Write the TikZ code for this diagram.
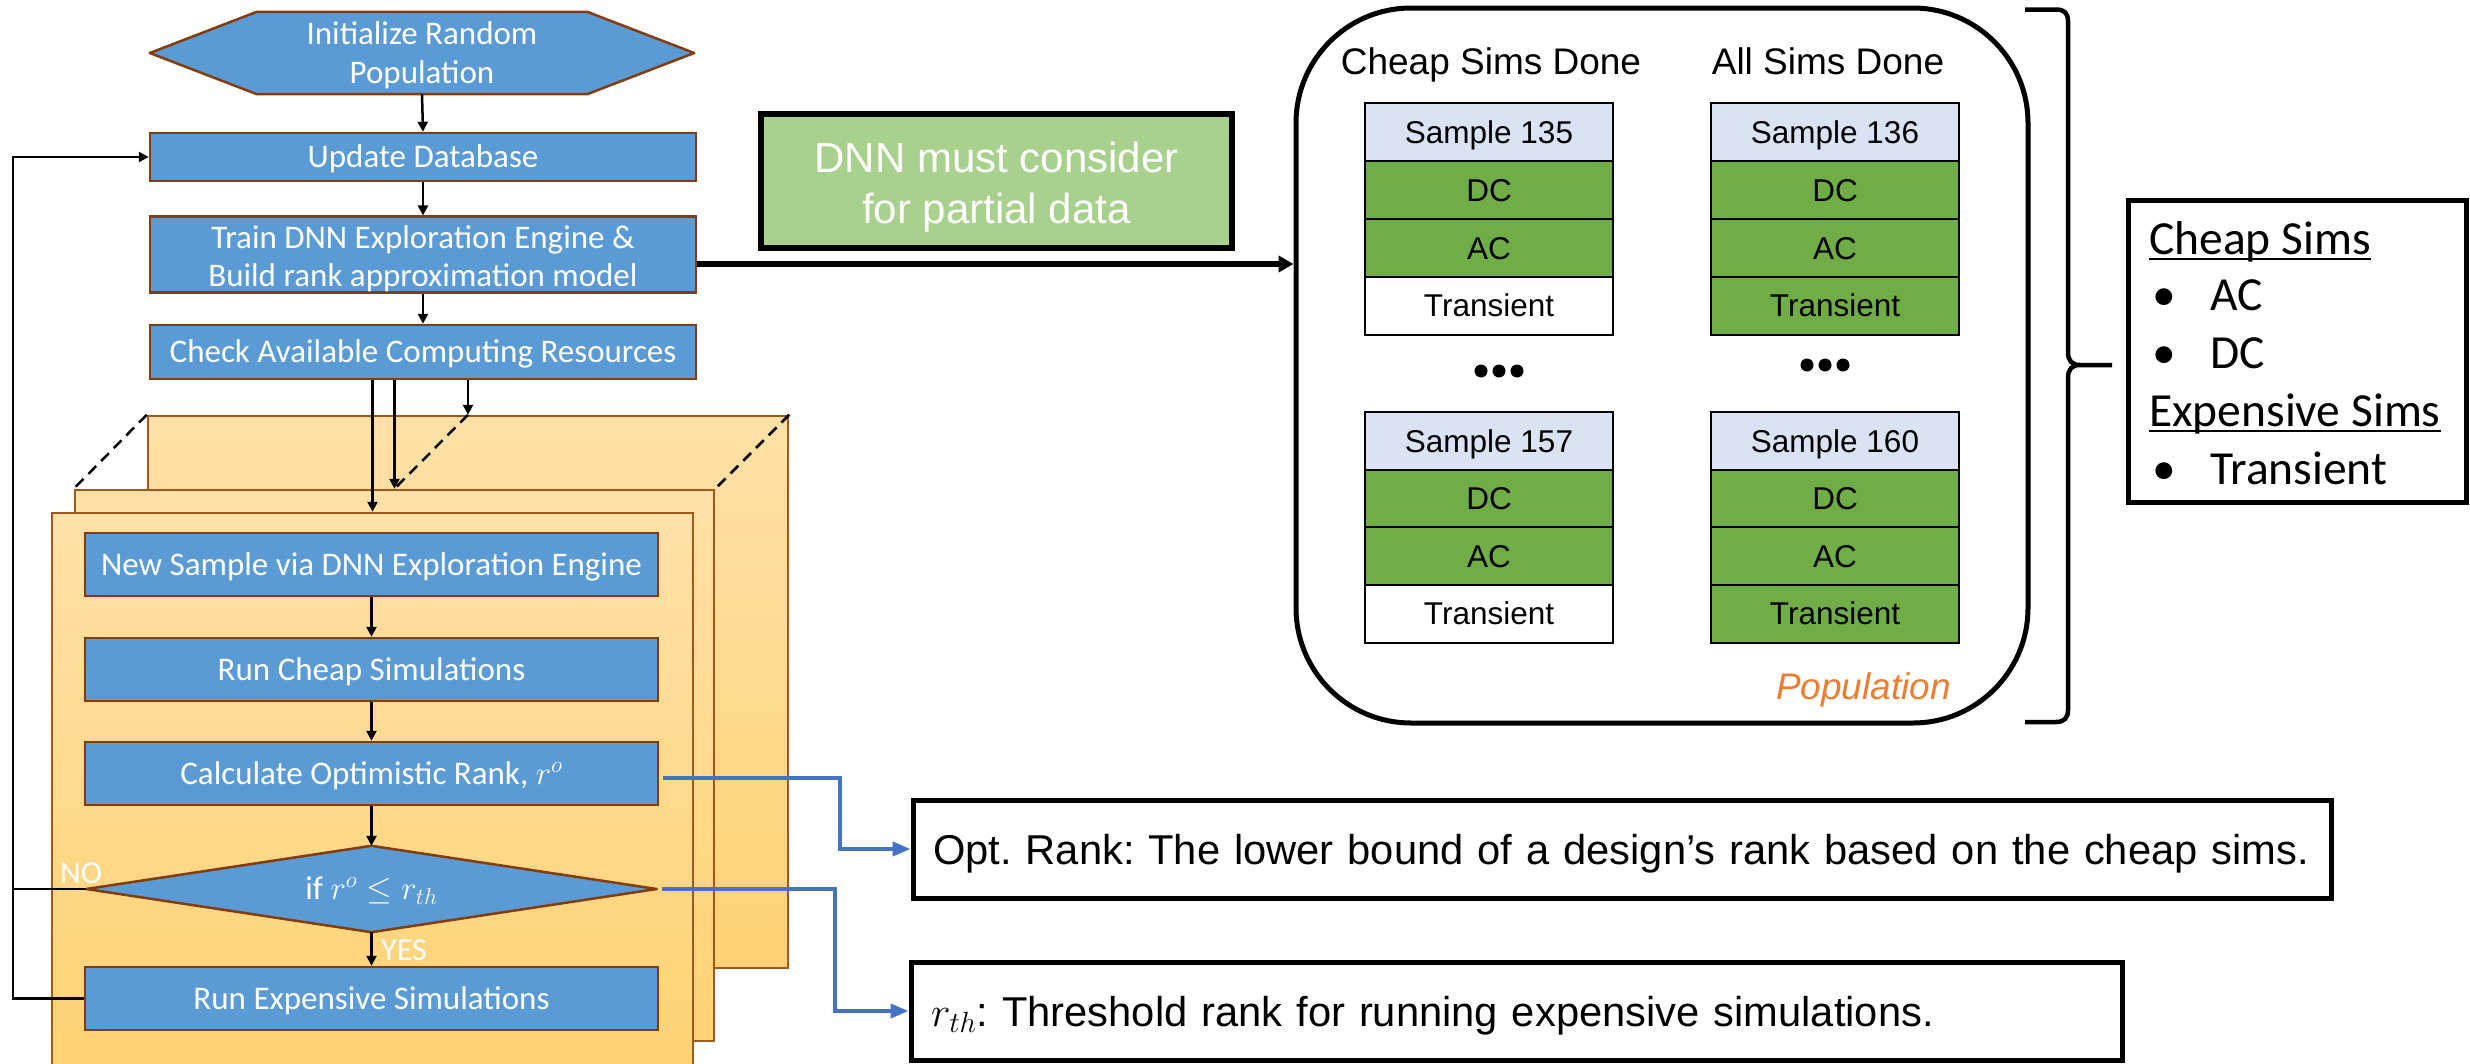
\RequirePackage{fix-cm}
\documentclass[tikz,border=0pt]{standalone}
\usepackage{fontspec}
\setmainfont{Carlito}
\newfontfamily\arialfont{Liberation Sans}
\usetikzlibrary{arrows.meta,shapes.geometric}
\definecolor{boxblue}{HTML}{5B9BD5}
\definecolor{boxbrown}{HTML}{843C0C}
\definecolor{panelbrd}{HTML}{A0581E}
\definecolor{paneltop}{HTML}{FFE1A8}
\definecolor{panelbot}{HTML}{FFD273}
\definecolor{dnngreen}{HTML}{A9D18E}
\definecolor{cellgreen}{HTML}{70AD47}
\definecolor{cellhead}{HTML}{DAE3F3}
\definecolor{lineblue}{HTML}{4472C4}
\definecolor{poporange}{HTML}{ED7D31}
\newsavebox\ulbox
\newcommand\myul[1]{\sbox\ulbox{#1}\rlap{\rule[-6pt]{\wd\ulbox}{2.5pt}}\usebox\ulbox}
\pgfdeclarelayer{panels}
\pgfdeclarelayer{bg}
\pgfsetlayers{panels,bg,main}
\frenchspacing
\begin{document}
\begin{tikzpicture}[x=1pt,y=-1pt,
  flow/.style={draw=boxbrown,line width=2.5pt,fill=boxblue,text=white,inner sep=0pt,align=center,font=\fontsize{33}{38.5}\selectfont},
  onel/.style={text height=21.3pt,text depth=0pt},
  shapefill/.style={draw=boxbrown,fill=boxblue,line width=2.5pt,line join=round},
  arr/.style={line width=2.5pt,-{Triangle[length=10pt,width=10pt]}},
  panel/.style={draw=panelbrd,line width=2.5pt,top color=paneltop,bottom color=panelbot,inner sep=0pt},
  cell/.style={draw=black,line width=2pt,minimum width=248pt,minimum height=58pt,inner sep=0pt,text height=22.5pt,text depth=0pt,font=\arialfont\fontsize{31.5}{36}\selectfont},
  head/.style={cell,fill=cellhead},
  done/.style={cell,fill=cellgreen},
  todo/.style={cell,fill=white},
  note/.style={draw=black,line width=5pt,fill=white,inner sep=0pt,text height=30pt,text depth=0pt,align=left,font=\arialfont\fontsize{41.7}{50}\selectfont},
  bluearr/.style={draw=lineblue,line width=4pt,-{Triangle[length=18pt,width=14pt]}},
  leg/.style={inner sep=0pt,anchor=base west,font=\fontsize{47.5}{57}\selectfont},
  lbl/.style={inner sep=0pt,anchor=base west,text=white,font=\fontsize{32}{38}\selectfont},
  dots/.style={fill=black}
  ]
\useasboundingbox (0,0) rectangle (2470,1063);

% ---------- top of flowchart ----------
\node[inner sep=0pt,minimum width=544pt,minimum height=82pt,text=white,align=center,
      font=\fontsize{33}{39}\selectfont] (hex) at (422,53) {\rule{0pt}{27.3pt}Initialize Random\\Population};
\begin{pgfonlayer}{bg}
\draw[shapefill]
  (hex.west) -- ([xshift=107pt]hex.north west) -- ([xshift=-107pt]hex.north east) -- (hex.east)
  -- ([xshift=-107pt]hex.south east) -- ([xshift=107pt]hex.south west) -- cycle;
\end{pgfonlayer}

\node[flow,onel,minimum width=546pt,minimum height=48pt] (upd) at (423,157) {Update Database};
\node[flow,minimum width=546pt,minimum height=73pt] (train) at (423,254.5)
  {\rule{0pt}{31.8pt}Train DNN Exploration Engine \&\\Build rank approximation model};
\node[flow,onel,minimum width=546pt,minimum height=54pt] (check) at (423,352) {Check Available Computing Resources};

\draw[arr] (hex.south) -- (upd.north);
\draw[arr] (upd.south) -- (upd.south |- train.north);
\draw[arr] (train.south) -- (check.north);

% ---------- stacked panels ----------
\begin{pgfonlayer}{panels}
\node[panel,minimum width=640pt,minimum height=552pt] (backp) at (468,692) {};
\node[panel,minimum width=639pt,minimum height=551pt] (midp) at (394.5,765.5) {};
\node[panel,minimum width=641pt,minimum height=557pt] (frontp) at (372.5,791.5) {};
\end{pgfonlayer}

\draw[line width=2.5pt,dash pattern=on 11pt off 7pt] (backp.north west) -- (midp.north west);
\draw[line width=2.5pt,dash pattern=on 11pt off 7pt] (backp.north) -- (midp.north);
\draw[line width=2.5pt,dash pattern=on 11pt off 7pt] (backp.north east) -- (midp.north east);

\draw[arr] (check.south -| frontp.north) -- (frontp.north);
\draw[arr] (check.south -| midp.north) -- (midp.north);
\draw[arr] (check.south -| backp.north) -- (backp.north);

% ---------- inner flow ----------
\node[flow,onel,minimum width=573pt,minimum height=63pt] (news) at (371.5,564.5) {New Sample via DNN Exploration Engine};
\node[flow,onel,minimum width=573pt,minimum height=63pt] (cheap) at (371.5,669.5) {Run Cheap Simulations};
\node[flow,onel,minimum width=573pt,minimum height=63pt] (calc) at (371.5,773.5) {Calculate Optimistic Rank, $r^{o}$};
\node[inner sep=0pt,onel,text=white,minimum width=570pt,minimum height=86pt,font=\fontsize{33}{38.5}\selectfont] (dia) at (371.5,889) {if $r^{o}\leq r_{th}$};
\begin{pgfonlayer}{bg}
\draw[shapefill] (dia.west) -- (dia.north) -- (dia.east) -- (dia.south) -- cycle;
\end{pgfonlayer}
\node[flow,onel,minimum width=573pt,minimum height=63pt] (exp) at (371.5,998.5) {Run Expensive Simulations};

\draw[arr] (news) -- (cheap);
\draw[arr] (cheap) -- (calc);
\draw[arr] (calc) -- (dia);
\draw[arr] (dia) -- (exp);

\node[lbl] (nolbl) at (60,883) {NO};
\node[lbl] (yeslbl) at (381,960) {YES};

\coordinate (fb) at (13,157);
\draw[arr] (exp.west) -| (fb) -- (upd.west);
\draw[line width=2.5pt] (dia.west) -- (dia.west -| fb);

% ---------- DNN note ----------
\node[draw=black,line width=5.5pt,fill=dnngreen,inner sep=0pt,minimum width=471pt,minimum height=134pt,
      text=white,align=center,font=\arialfont\fontsize{42}{51}\selectfont] (dnn) at (996.5,181)
      {\rule{0pt}{42pt}DNN must consider\\for partial data};

% ---------- population ----------
\node[draw=black,line width=5pt,rounded corners=115pt,minimum width=732pt,minimum height=715pt,inner sep=0pt] (pop) at (1662,365.5) {};
\draw[line width=5.5pt,-{Triangle[length=15pt,width=16pt]}] ([yshift=-9.5pt]train.east) coordinate (ts) -- (ts -| pop.west);

\node[inner sep=0pt,anchor=base,font=\arialfont\fontsize{37}{44}\selectfont] (hcheap) at (1491,74.5) {Cheap Sims Done};
\node[inner sep=0pt,anchor=base,font=\arialfont\fontsize{37}{44}\selectfont] (hall) at (1828,74.5) {All Sims Done};

\node[head] (a1) at (1489,132) {Sample 135};
\node[done] (a2) at (1489,190) {DC};
\node[done] (a3) at (1489,248) {AC};
\node[todo] (a4) at (1489,305.5) {Transient};

\node[head] (b1) at (1835,132) {Sample 136};
\node[done] (b2) at (1835,190) {DC};
\node[done] (b3) at (1835,248) {AC};
\node[done] (b4) at (1835,305.5) {Transient};

\node[head] (c1) at (1489,441) {Sample 157};
\node[done] (c2) at (1489,498.5) {DC};
\node[done] (c3) at (1489,556) {AC};
\node[todo] (c4) at (1489,613.5) {Transient};

\node[head] (d1) at (1835,441) {Sample 160};
\node[done] (d2) at (1835,498.5) {DC};
\node[done] (d3) at (1835,556) {AC};
\node[done] (d4) at (1835,613.5) {Transient};

\fill[dots] (1481,371) circle (6.5pt) (1499,371) circle (6.5pt) (1517,371) circle (6.5pt);
\fill[dots] (1807,365) circle (6.5pt) (1825,365) circle (6.5pt) (1843,365) circle (6.5pt);

\node[inner sep=0pt,text=poporange,font=\arialfont\itshape\fontsize{37}{44}\selectfont] (poplbl) at (1863.5,690) {Population};

% ---------- brace and legend ----------
\draw[line width=4.5pt]
  (2025,9.5) -- (2056,9.5) .. controls (2064,9.5) and (2068,13) .. (2068,21) -- (2068,352)
  .. controls (2068,361) and (2072,365) .. (2080,365) -- (2112,365)
  (2080,365) .. controls (2072,365) and (2068,369) .. (2068,378) -- (2068,710)
  .. controls (2068,718) and (2064,722) .. (2056,722) -- (2025,722);

\node[draw=black,line width=5pt,minimum width=338pt,minimum height=302pt,inner sep=0pt] (legbox) at (2297,351) {};
\node[leg] (lg1) at (2149,254) {\myul{Cheap Sims}};
\node[leg] (lg2) at (2152,310) {\makebox[58pt][l]{\textbullet}AC};
\node[leg] (lg3) at (2152,368) {\makebox[58pt][l]{\textbullet}DC};
\node[leg] (lg4) at (2149,426) {\myul{Expensive Sims}};
\node[leg] (lg5) at (2152,484) {\makebox[58pt][l]{\textbullet}Transient};

% ---------- explanation boxes ----------
\node[note,minimum width=1418pt,minimum height=98pt,text width=1378pt] (opt) at (1622,849)
  {Opt. Rank: The lower bound of a design’s rank based on the cheap sims.};
\node[note,minimum width=1211pt,minimum height=98pt,text width=1171pt] (thr) at (1516.5,1011)
  {$r_{th}$: Threshold rank for running expensive simulations.};

\coordinate (bx1) at (840,0);
\coordinate (bx2) at (835,0);
\draw[bluearr] ([xshift=4pt,yshift=-4pt]calc.east) -| (bx1 |- opt.west) -- (opt.west);
\draw[bluearr] ([xshift=5pt]dia.east) -| (bx2 |- thr.west) -- (thr.west);
\end{tikzpicture}
\end{document}
